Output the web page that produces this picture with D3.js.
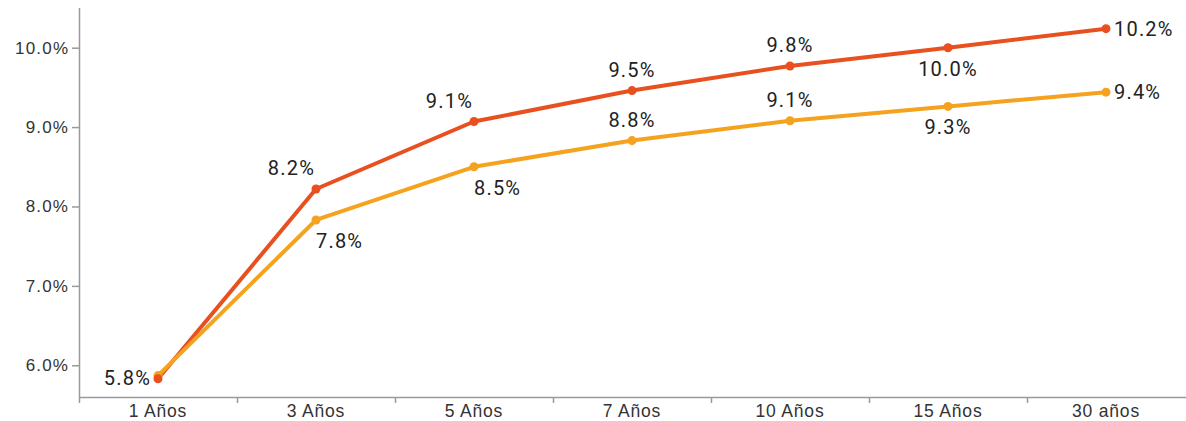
<!DOCTYPE html>
<html>
<head>
<meta charset="utf-8">
<script src="https://cdn.jsdelivr.net/npm/d3@7"></script>
<style>
  html, body { margin: 0; padding: 0; background: #ffffff; }
  svg { display: block; font-family: Roboto, "Noto Sans", sans-serif; }
</style>
</head>
<body>
<svg id="chart" width="1186" height="421"></svg>
<script>
// Plazos y tasas (%) de las dos curvas
const plazos = ["1 Años", "3 Años", "5 Años", "7 Años", "10 Años", "15 Años", "30 años"];
const tasaAlta = [5.83, 8.22, 9.07, 9.46, 9.77, 10.0, 10.24];
const tasaBaja = [5.87, 7.83, 8.50, 8.83, 9.08, 9.26, 9.44];
const yTicks = [6, 7, 8, 9, 10];

// Posición de cada etiqueta respecto a su punto (null = sin etiqueta)
const posAlta = ["left", "aboveLeft", "aboveLeft", "above", "above", "below", "right"];
const posBaja = [null, "belowRight", "belowRight", "above", "above", "below", "right"];

const colorAlta = "#e8501f";
const colorBaja = "#f5a21e";

const svg = d3.select("#chart");
const mLeft = 79, mRight = 1185, mTop = 8, mBottom = 397;

const x = d3.scaleBand().domain(plazos).range([mLeft, mRight]).padding(0);
const y = d3.scaleLinear().domain([5.6, 10.5]).range([mBottom, mTop]);
const cx = d => x(d) + x.bandwidth() / 2;

// Eje Y
const yAxis = svg.append("g")
  .attr("transform", `translate(${mLeft},0)`)
  .call(d3.axisLeft(y).tickValues(yTicks).tickSize(7).tickPadding(4)
    .tickFormat(d => d3.format(".1f")(d) + "%"));
yAxis.select(".domain").attr("d", `M0.5,${mTop}V${mBottom}`);

// Eje X: marcas en los bordes de cada banda
const xAxis = svg.append("g")
  .attr("transform", `translate(0,${mBottom})`)
  .call(d3.axisBottom(x).tickSize(0).tickPadding(6));
xAxis.select(".domain").attr("d", `M${mLeft},0.5H${1186}`);
xAxis.selectAll(".edge").data(plazos).enter().append("line")
  .attr("class", "edge")
  .attr("x1", d => x(d) + 0.5).attr("x2", d => x(d) + 0.5)
  .attr("y1", 0).attr("y2", 6);

svg.selectAll(".domain, .tick line, .edge")
  .attr("stroke", "#9a9a9a").attr("stroke-width", 1.5);
yAxis.selectAll(".tick text")
  .attr("fill", "#333").style("font-size", "17px")
  .style("letter-spacing", "1.2px").attr("dx", "1.2px");
xAxis.selectAll(".tick text")
  .attr("fill", "#333").style("font-size", "17.5px")
  .style("letter-spacing", "0.8px").attr("dy", "0.8em");

const line = d3.line().x((d, i) => cx(plazos[i])).y(d => y(d));

function serie(vals, color) {
  svg.append("path").datum(vals)
    .attr("fill", "none").attr("stroke", color)
    .attr("stroke-width", 4).attr("stroke-linejoin", "round")
    .attr("d", line);
}
function puntos(vals, color) {
  svg.append("g").selectAll("circle").data(vals).enter().append("circle")
    .attr("cx", (d, i) => cx(plazos[i])).attr("cy", d => y(d))
    .attr("r", 4.5).attr("fill", color);
}
function etiquetas(vals, pos) {
  const off = {
    left:       { dx: -7,  dy: 6,   anchor: "end" },
    aboveLeft:  { dx: -1,  dy: -14, anchor: "end" },
    above:      { dx: 0,   dy: -14, anchor: "middle" },
    below:      { dx: 0,   dy: 28,  anchor: "middle" },
    belowRight: { dx: 0,   dy: 28,  anchor: "start" },
    right:      { dx: 8,   dy: 7,   anchor: "start" }
  };
  const data = vals.map((v, i) => ({ v, i, p: pos[i] })).filter(d => d.p);
  svg.append("g").selectAll("text").data(data).enter().append("text")
    .attr("x", d => cx(plazos[d.i]) + off[d.p].dx)
    .attr("y", d => y(d.v) + off[d.p].dy)
    .attr("text-anchor", d => off[d.p].anchor)
    .attr("fill", "#222")
    .style("font-size", "20px")
    .style("letter-spacing", "1.2px")
    .text(d => d3.format(".1f")(d.v) + "%");
}

serie(tasaAlta, colorAlta);
serie(tasaBaja, colorBaja);
puntos(tasaBaja, colorBaja);
puntos(tasaAlta, colorAlta);
etiquetas(tasaAlta, posAlta);
etiquetas(tasaBaja, posBaja);
</script>
</body>
</html>
